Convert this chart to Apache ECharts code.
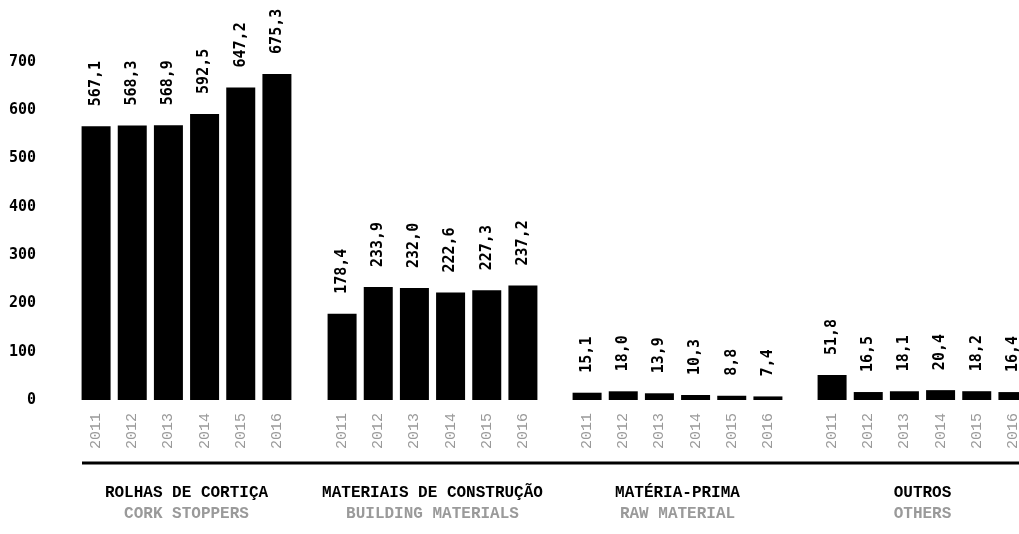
<!DOCTYPE html>
<html>
<head>
<meta charset="utf-8">
<script src="https://cdn.jsdelivr.net/npm/echarts@6/dist/echarts.min.js"></script>
<style>
  html, body { margin: 0; padding: 0; background: #fff; overflow: hidden; }
  /* a bit wider than the window: the last group runs off the right edge */
  #chart { width: 1040px; height: 534px; }
</style>
</head>
<body>
<div id="chart"></div>
<script>
// data
var years = ['2011', '2012', '2013', '2014', '2015', '2016'];
var groupTitles = ['ROLHAS DE CORTIÇA', 'MATERIAIS DE CONSTRUÇÃO', 'MATÉRIA-PRIMA', 'OUTROS'];
var groupSubtitles = ['CORK STOPPERS', 'BUILDING MATERIALS', 'RAW MATERIAL', 'OTHERS'];
var corkStoppers = [567.1, 568.3, 568.9, 592.5, 647.2, 675.3];
var buildingMaterials = [178.4, 233.9, 232.0, 222.6, 227.3, 237.2];
var rawMaterial = [15.1, 18.0, 13.9, 10.3, 8.8, 7.4];
var others = [51.8, 16.5, 18.1, 20.4, 18.2, 16.4];
var yMin = 0, yMax = 700, yStep = 100;

var groups = [corkStoppers, buildingMaterials, rawMaterial, others];
var gridLefts = [78, 324, 569, 814];

var chart = echarts.init(document.getElementById('chart'));

var grids = [], xAxes = [], yAxes = [], series = [];
groups.forEach(function (values, i) {
  grids.push({ left: gridLefts[i], width: 217, top: 62, bottom: 134 });
  xAxes.push({
    type: 'category',
    gridIndex: i,
    data: years,
    axisLine: { show: false },
    axisTick: { show: false },
    axisLabel: {
      rotate: 90,
      margin: 13,
      color: '#9a9a9a',
      fontFamily: 'Liberation Mono',
      fontSize: 15
    },
    name: '{t|' + groupTitles[i] + '}\n{s|' + groupSubtitles[i] + '}',
    nameLocation: 'middle',
    nameGap: 82,
    nameTextStyle: {
      rich: {
        t: { fontFamily: 'Liberation Mono', fontWeight: 'bold', fontSize: 16, color: '#000', lineHeight: 21, align: 'center' },
        s: { fontFamily: 'Liberation Mono', fontWeight: 'bold', fontSize: 16, color: '#9a9a9a', lineHeight: 21, align: 'center' }
      }
    }
  });
  yAxes.push({
    type: 'value',
    gridIndex: i,
    min: yMin,
    max: yMax,
    interval: yStep,
    splitLine: { show: false },
    axisLine: { show: false },
    axisTick: { show: false },
    axisLabel: {
      show: i === 0,
      margin: 42,
      color: '#000',
      fontFamily: 'DejaVu Sans Mono',
      fontWeight: 'bold',
      fontSize: 15
    }
  });
  series.push({
    type: 'bar',
    xAxisIndex: i,
    yAxisIndex: i,
    data: values,
    barWidth: 29,
    itemStyle: { color: '#000' },
    label: {
      show: true,
      position: 'top',
      distance: 20,
      rotate: 90,
      align: 'left',
      verticalAlign: 'middle',
      color: '#000',
      fontFamily: 'DejaVu Sans Mono',
      fontWeight: 'bold',
      fontSize: 15,
      formatter: function (p) { return p.value.toFixed(1).replace('.', ','); }
    },
    silent: true
  });
});

chart.setOption({
  animation: false,
  backgroundColor: '#fff',
  grid: grids,
  xAxis: xAxes,
  yAxis: yAxes,
  series: series,
  graphic: [{
    type: 'line',
    shape: { x1: 82, y1: 463, x2: 1040, y2: 463 },
    style: { stroke: '#000', lineWidth: 3 }
  }]
});
</script>
</body>
</html>
